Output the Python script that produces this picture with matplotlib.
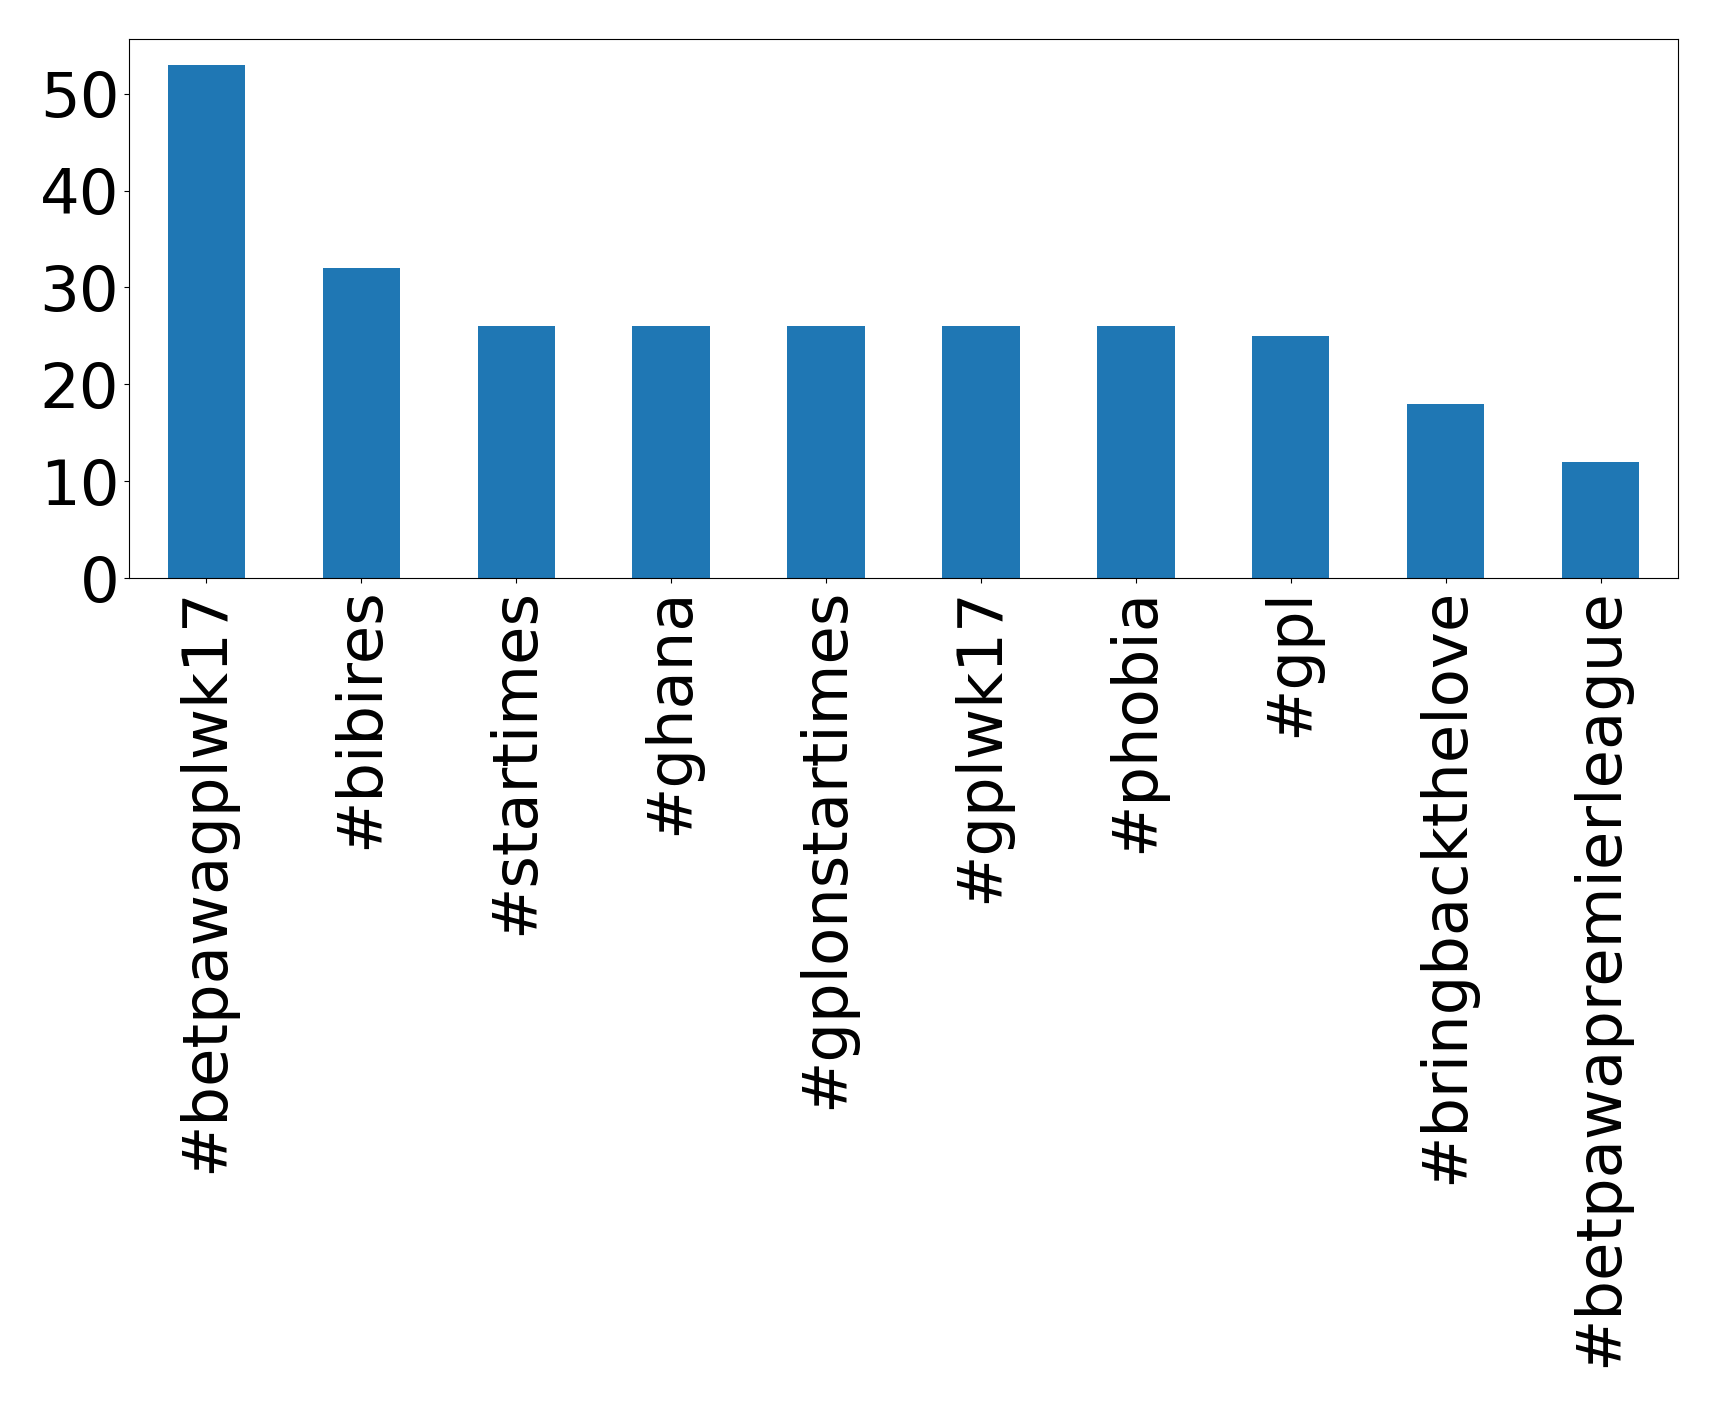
import matplotlib
matplotlib.use("Agg")
import matplotlib.pyplot as plt
import pandas as pd

hashtags = [
    "#betpawagplwk17",
    "#bibires",
    "#startimes",
    "#ghana",
    "#gplonstartimes",
    "#gplwk17",
    "#phobia",
    "#gpl",
    "#bringbackthelove",
    "#betpawapremierleague",
]
counts = [53, 32, 26, 26, 26, 26, 26, 25, 18, 12]

series = pd.Series(counts, index=hashtags)

fig = plt.figure(figsize=(17.19, 14.07), dpi=100)
ax = fig.add_axes([129 / 1719, 1 - 578 / 1407, (1678 - 129) / 1719, (578 - 39) / 1407])
series.plot(kind="bar", ax=ax, fontsize=45, color="#1f77b4")
ax.tick_params(axis="x", labelrotation=90)

fig.savefig("out.png", dpi=100)
